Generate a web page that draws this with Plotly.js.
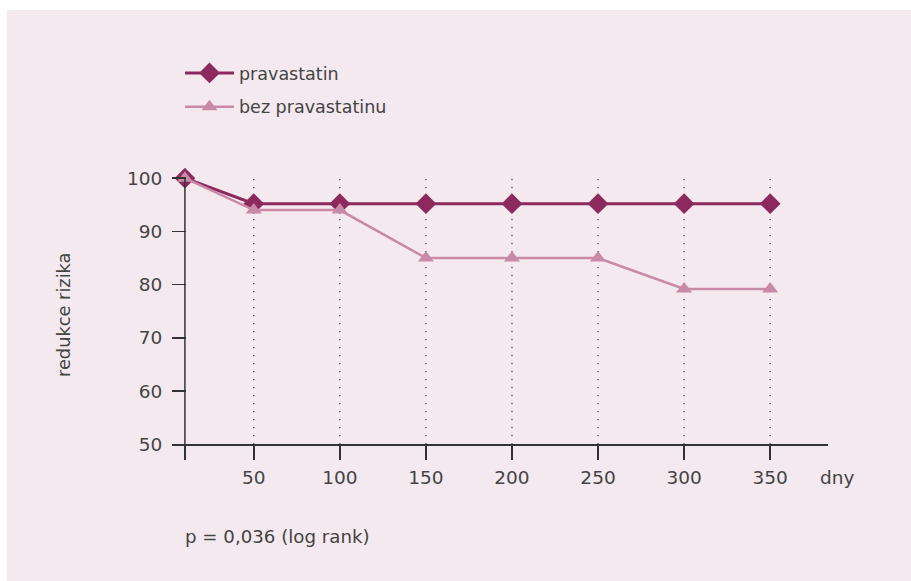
<!DOCTYPE html>
<html>
<head>
<meta charset="utf-8">
<script src="https://cdn.plot.ly/plotly-3.0.1.min.js"></script>
<style>
html,body{margin:0;padding:0;background:#fff;}
#chart{width:911px;height:581px;}
</style>
</head>
<body>
<div id="chart"></div>
<script>
// Data
var days = [10, 50, 100, 150, 200, 250, 300, 350];
var pravastatin = [100, 95.2, 95.2, 95.2, 95.2, 95.2, 95.2, 95.2];
var bezPravastatinu = [100, 94, 94, 85, 85, 85, 79.2, 79.2];
var xTickVals = [10, 50, 100, 150, 200, 250, 300, 350];
var xTickText = ['', '50', '100', '150', '200', '250', '300', '350'];
var yTickVals = [50, 60, 70, 80, 90, 100];
var seriesNames = ['pravastatin', 'bez pravastatinu'];

var W = 911, H = 581;
var FONT = 'DejaVu Sans';
var TXT = '#444444';
var AX = '#333333';
var C1 = '#8c2a5e';
var C2 = '#c98aa7';

var traces = [
  {
    x: days, y: pravastatin, name: seriesNames[0], type: 'scatter', mode: 'lines+markers',
    line: {color: C1, width: 3},
    marker: {symbol: 'diamond', size: 16, color: C1},
    cliponaxis: false, legendgroup: 'a'
  },
  {
    x: days, y: bezPravastatinu, name: seriesNames[1], type: 'scatter', mode: 'lines+markers',
    line: {color: C2, width: 2.5},
    marker: {symbol: 'triangle-up', size: 14, color: C2},
    cliponaxis: false, legendgroup: 'b'
  }
];

var shapes = [
  {type: 'rect', xref: 'paper', yref: 'paper', x0: 7 / W, x1: 1, y0: 0, y1: (H - 10) / H,
   fillcolor: '#f4e9ee', line: {width: 0}, layer: 'below'},
  {type: 'line', xref: 'x', yref: 'y', x0: xTickVals[0], x1: xTickVals[0],
   y0: yTickVals[0], y1: yTickVals[yTickVals.length - 1], line: {color: AX, width: 1.5}, layer: 'above'}
];
xTickVals.slice(1).forEach(function (v) {
  shapes.push({type: 'line', xref: 'x', yref: 'y', x0: v, x1: v,
    y0: yTickVals[0], y1: yTickVals[yTickVals.length - 1],
    line: {color: '#4a4a4a', width: 1.3, dash: '1.3px,6.7px'}, layer: 'below'});
});

var layout = {
  width: W, height: H,
  margin: {l: 0, r: 0, t: 0, b: 0},
  paper_bgcolor: '#ffffff',
  plot_bgcolor: 'rgba(0,0,0,0)',
  font: {family: FONT, size: 17, color: TXT},
  showlegend: true,
  legend: {
    x: 180 / W, y: (H - 55) / H, xanchor: 'left', yanchor: 'top',
    bgcolor: 'rgba(0,0,0,0)', borderwidth: 0,
    font: {family: FONT, size: 17.5, color: TXT},
    traceorder: 'grouped', tracegroupgap: 8, itemwidth: 49
  },
  xaxis: {
    domain: [172 / W, 828 / W], range: [2.5, 383.6],
    showline: true, linecolor: AX, linewidth: 1.5,
    ticks: 'outside', ticklen: 14, tickwidth: 1.5, tickcolor: AX,
    tickvals: xTickVals, ticktext: xTickText,
    showgrid: false, zeroline: false, ticklabelstandoff: 2,
    tickfont: {family: FONT, size: 18.5, color: TXT}
  },
  yaxis: {
    domain: [(H - 444.3) / H, (H - 167) / H], range: [50, 102.1],
    anchor: 'free', position: 186 / W,
    showline: false,
    ticks: 'outside', ticklen: 14, tickwidth: 1.5, tickcolor: AX,
    tickvals: yTickVals, ticklabelstandoff: 6,
    showgrid: false, zeroline: false,
    tickfont: {family: FONT, size: 18.5, color: TXT}
  },
  shapes: shapes,
  annotations: [
    {text: 'redukce rizika', xref: 'paper', yref: 'paper', x: 63 / W, y: (H - 315) / H,
     xanchor: 'center', yanchor: 'middle', textangle: -90, showarrow: false,
     font: {family: FONT, size: 17.8, color: TXT}},
    {text: 'dny', xref: 'paper', yref: 'paper', x: 837 / W, y: (H - 477) / H,
     xanchor: 'center', yanchor: 'middle', showarrow: false,
     font: {family: FONT, size: 18.5, color: TXT}},
    {text: 'p = 0,036 (log rank)', xref: 'paper', yref: 'paper', x: 183 / W, y: (H - 536) / H,
     xanchor: 'left', yanchor: 'middle', showarrow: false,
     font: {family: FONT, size: 18.2, color: TXT}}
  ]
};

Plotly.newPlot('chart', traces, layout, {displayModeBar: false, staticPlot: true});
</script>
</body>
</html>
